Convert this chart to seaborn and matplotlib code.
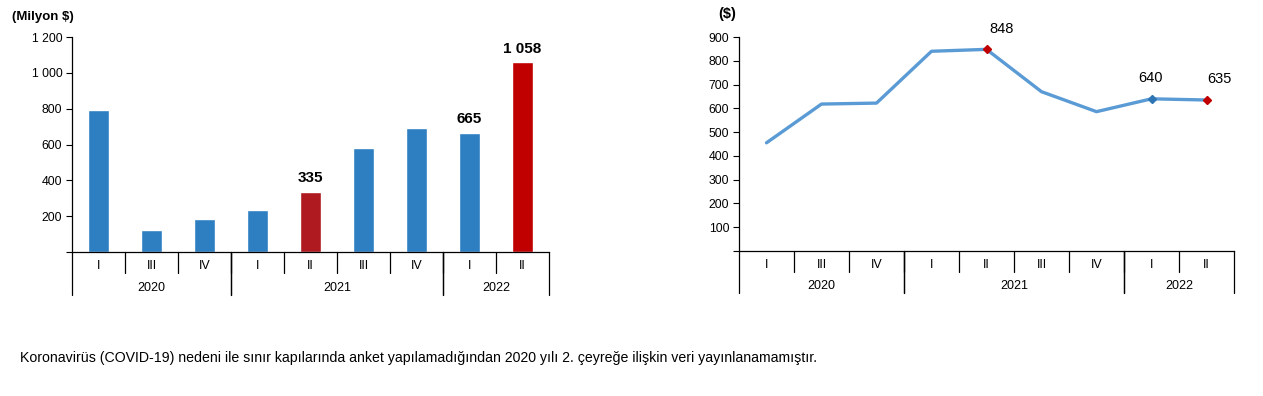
import matplotlib
matplotlib.use("Agg")
import matplotlib.pyplot as plt
import matplotlib.ticker as mticker
import numpy as np
import pandas as pd
import seaborn as sns

# data
quarters = ["I", "III", "IV", "I", "II", "III", "IV", "I", "II"]
years = ["2020", "2021", "2022"]
year_spans = [(0, 3), (3, 7), (7, 9)]
income = [794, 125, 186, 236, 335, 582, 694, 665, 1058]
spend_per_visitor = [455, 618, 622, 840, 848, 670, 586, 640, 635]

bar_labels = {4: "335", 7: "665", 8: "1 058"}
line_labels = {4: "848", 7: "640", 8: "635"}

BLUE = "#2E7EC2"
DARK_RED = "#AF1A20"
RED = "#C00000"
LINE = "#5B9BD5"

sns.set_theme(style="white")
plt.rcParams["font.family"] = ["Liberation Sans", "DejaVu Sans"]
plt.rcParams["text.color"] = "black"

fig = plt.figure(figsize=(12.63, 3.96), dpi=100)
ax1 = fig.add_axes([72 / 1263, 144 / 396, 477 / 1263, 215 / 396])
ax2 = fig.add_axes([739 / 1263, 145 / 396, 495 / 1263, 214 / 396])

keys = [f"{i}" for i in range(len(quarters))]
bar_colors = [BLUE] * len(keys)
bar_colors[4] = DARK_RED
bar_colors[8] = RED
df_bar = pd.DataFrame({"key": keys, "value": income})
sns.barplot(data=df_bar, x="key", y="value", hue="key",
            palette=dict(zip(keys, bar_colors)), width=0.4,
            saturation=1, legend=False, ax=ax1)
for i, txt in bar_labels.items():
    ax1.annotate(txt, (i, income[i]), xytext=(0, 10), textcoords="offset points",
                 ha="center", va="center", fontsize=11, fontweight="bold",
                 color="black")

df_line = pd.DataFrame({"pos": np.arange(len(quarters)), "value": spend_per_visitor})
sns.lineplot(data=df_line, x="pos", y="value", color=LINE, linewidth=2.4, ax=ax2)
marker_colors = {4: RED, 7: "#2E75B6", 8: RED}
for i, c in marker_colors.items():
    ax2.plot(i, spend_per_visitor[i], marker="D", markersize=4.5, color=c, zorder=5)
offsets = {4: (11, 15), 7: (-1, 15), 8: (9, 15)}
for i, txt in line_labels.items():
    ax2.annotate(txt, (i, spend_per_visitor[i]), xytext=offsets[i],
                 textcoords="offset points", ha="center", va="center",
                 fontsize=10.5, color="black")


def fmt(v, _):
    if v == 0:
        return ""
    return f"{int(v):,}".replace(",", " ")


def style_axis(ax, ymax, step, q_depth, y_depth):
    ax.set_xlim(-0.5, len(quarters) - 0.5)
    ax.set_ylim(0, ymax)
    ax.set_yticks(np.arange(0, ymax + 1, step))
    ax.yaxis.set_major_formatter(mticker.FuncFormatter(fmt))
    ax.tick_params(axis="y", direction="out", length=4, width=0.8, left=True,
                   labelsize=8.8, colors="black", pad=3)
    ax.set_xticks([])
    ax.set_xlabel("")
    ax.set_ylabel("")
    for s in ["top", "right"]:
        ax.spines[s].set_visible(False)
    for s in ["left", "bottom"]:
        ax.spines[s].set_color("black")
        ax.spines[s].set_linewidth(0.9)
    tr = ax.get_xaxis_transform()
    # quarter separators and labels
    for k in range(1, len(quarters)):
        ax.plot([k - 0.5, k - 0.5], [0, -q_depth], transform=tr, color="black",
                lw=0.9, clip_on=False)
    for i, q in enumerate(quarters):
        ax.text(i, -q_depth * 0.66, q, transform=tr, ha="center", va="center",
                fontsize=9)
    # year separators and labels
    for start, end in year_spans:
        for b in (start, end):
            ax.plot([b - 0.5, b - 0.5], [0, -y_depth], transform=tr, color="black",
                    lw=0.9, clip_on=False)
    for yr, (start, end) in zip(years, year_spans):
        ax.text((start + end - 1) / 2, -y_depth * 0.84, yr, transform=tr,
                ha="center", va="center", fontsize=9)


style_axis(ax1, 1200, 200, 21 / 215, 43 / 214)
style_axis(ax2, 900, 100, 21 / 214, 42 / 214)

fig.text(12 / 1263, 1 - 17 / 396, "(Milyon $)", fontsize=9.5, fontweight="bold",
         ha="left", va="center")
fig.text(727 / 1263, 1 - 14 / 396, "($)", fontsize=10.5, fontweight="bold",
         ha="center", va="center")
fig.text(20 / 1263, 1 - 358 / 396,
         "Koronavirüs (COVID-19) nedeni ile sınır kapılarında anket yapılamadığından "
         "2020 yılı 2. çeyreğe ilişkin veri yayınlanamamıştır.",
         fontsize=10.2, ha="left", va="center")

fig.savefig("out.png", dpi=100)
